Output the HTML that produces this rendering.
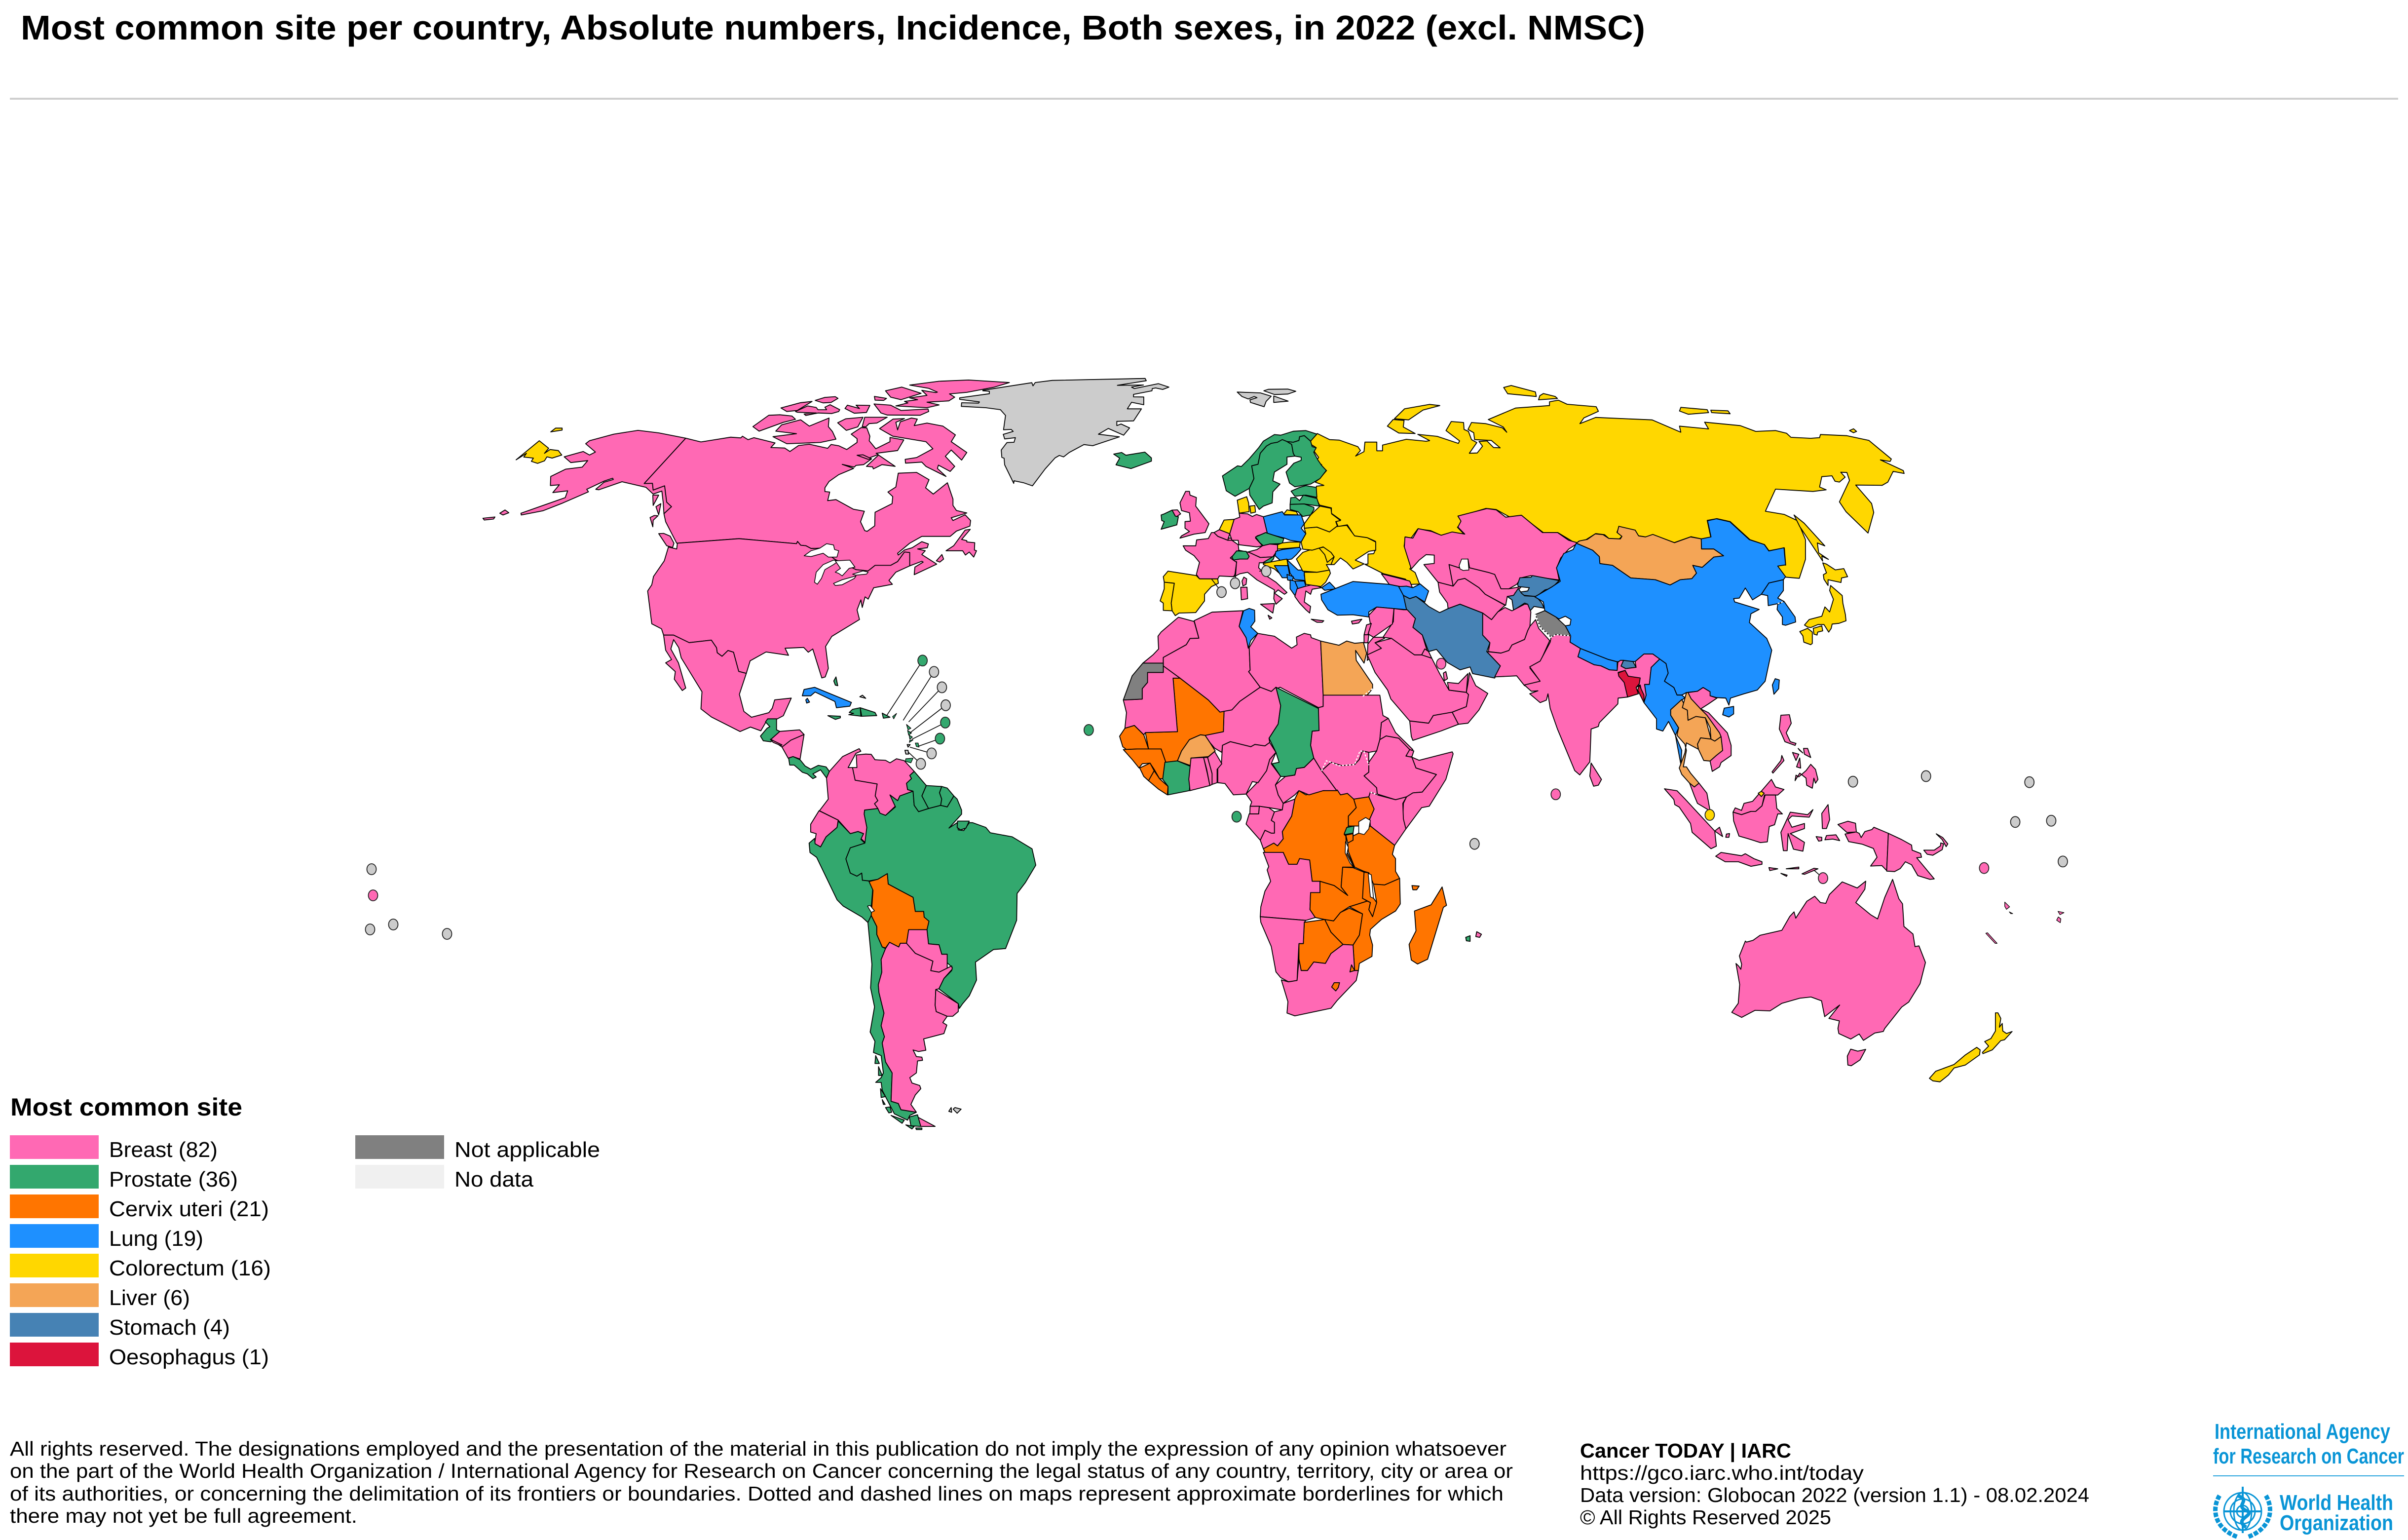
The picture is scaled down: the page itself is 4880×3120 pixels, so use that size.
<!DOCTYPE html>
<html lang="en">
<head>
<meta charset="utf-8">
<title>Most common site per country</title>
<style>
html,body{margin:0;padding:0;background:#fff}
svg{display:block}
text{font-family:"Liberation Sans","Noto Sans CJK JP",sans-serif;fill:#000}
.who{fill:#0a95d6;font-weight:bold}
</style>
</head>
<body>
<svg id="chart" xmlns="http://www.w3.org/2000/svg" width="4880" height="3120" viewBox="0 0 4880 3120">
<rect x="0" y="0" width="4880" height="3120" fill="#fff"/>
<text x="42" y="80" font-size="70" font-weight="bold" textLength="3292" lengthAdjust="spacingAndGlyphs">Most common site per country, Absolute numbers, Incidence, Both sexes, in 2022 (excl. NMSC)</text>
<rect x="20" y="198" width="4840" height="4" fill="#cfcfcf"/>
<g id="map"></g>
<g id="legend">
<text x="21" y="2260" font-size="50" font-weight="bold" textLength="470" lengthAdjust="spacingAndGlyphs">Most common site</text>
</g>
<g font-size="41">
<text x="20" y="2949" textLength="3033" lengthAdjust="spacingAndGlyphs">All rights reserved. The designations employed and the presentation of the material in this publication do not imply the expression of any opinion whatsoever</text>
<text x="20" y="2994" textLength="3046" lengthAdjust="spacingAndGlyphs">on the part of the World Health Organization / International Agency for Research on Cancer concerning the legal status of any country, territory, city or area or</text>
<text x="20" y="3040" textLength="3027" lengthAdjust="spacingAndGlyphs">of its authorities, or concerning the delimitation of its frontiers or boundaries. Dotted and dashed lines on maps represent approximate borderlines for which</text>
<text x="20" y="3085" textLength="704" lengthAdjust="spacingAndGlyphs">there may not yet be full agreement.</text>
</g>
<g font-size="41">
<text x="3202" y="2953" font-weight="bold" textLength="428" lengthAdjust="spacingAndGlyphs">Cancer TODAY | IARC</text>
<text x="3202" y="2998" textLength="575" lengthAdjust="spacingAndGlyphs">https://gco.iarc.who.int/today</text>
<text x="3202" y="3043" textLength="1032" lengthAdjust="spacingAndGlyphs">Data version: Globocan 2022 (version 1.1) - 08.02.2024</text>
<text x="3202" y="3088" textLength="509" lengthAdjust="spacingAndGlyphs">© All Rights Reserved 2025</text>
</g>
<g>
<text class="who" x="4488" y="2915" font-size="44" textLength="356" lengthAdjust="spacingAndGlyphs" style="fill:#0a95d6">International Agency</text>
<text class="who" x="4485" y="2965" font-size="44" textLength="387" lengthAdjust="spacingAndGlyphs" style="fill:#0a95d6">for Research on Cancer</text>
<rect x="4485" y="2989" width="387" height="2" fill="#2aa5dd"/>
<g fill="none" stroke="#0a95d6" stroke-width="3">
<circle cx="4545" cy="3062" r="38"/><circle cx="4545" cy="3062" r="25"/><circle cx="4545" cy="3062" r="12"/>
<ellipse cx="4545" cy="3062" rx="18" ry="38"/>
<path d="M4507 3062H4583M4545 3012V3106" stroke-width="4"/>
<path d="M4534 3030C4566 3040 4524 3050 4556 3062C4566 3072 4526 3078 4552 3094" stroke-width="7"/>
<path d="M4498 3030C4480 3060 4490 3098 4535 3114M4592 3030C4610 3060 4600 3098 4555 3114" stroke-width="9" stroke-dasharray="9 3"/>
</g>
<text class="who" x="4620" y="3059" font-size="44" textLength="230" lengthAdjust="spacingAndGlyphs" style="fill:#0a95d6">World Health</text>
<text class="who" x="4620" y="3100" font-size="44" textLength="230" lengthAdjust="spacingAndGlyphs" style="fill:#0a95d6">Organization</text>
</g>
</svg>
<script>
const siteNames = ['Breast','Prostate','Cervix uteri','Lung','Colorectum','Liver','Stomach','Oesophagus'];
const siteCounts = [82,36,21,19,16,6,4,1];
const otherNames = ['Not applicable','No data'];
const siteColors = {'Breast':'#ff69b4','Prostate':'#33a86e','Cervix uteri':'#ff7500','Lung':'#1e90ff','Colorectum':'#ffd700','Liver':'#f4a556','Stomach':'#4682b4','Oesophagus':'#dc143c','Not applicable':'#808080','No data':'#f0f0f0','Unmapped':'#cccccc','Water':'#ffffff'};
const breastCountries = ['Canada','USA','Mexico','Canada Arctic','Honduras','El Salvador','Nicaragua','Colombia','Venezuela','Ecuador','Argentina','Paraguay','Uruguay','UK','Germany','Belgium','Luxembourg','France','Austria','Italy','Greece','Georgia','Kazakhstan','Uzbekistan','Turkmenistan','Afghanistan','Pakistan','India','Sri Lanka','Vietnam','Malaysia','Indonesia','Philippines','Papua New Guinea','Australia','Iraq','Syria','Lebanon','Palestine','Jordan','Saudi Arabia','Yemen','Oman','UAE','Kuwait','Qatar','Morocco','Algeria','Libya','Sudan','South Sudan','Eritrea','Djibouti','Ethiopia','Somalia','Kenya','CAR','Congo','Gabon','Equatorial Guinea','Cameroon','Nigeria','Niger','Mauritania','Ghana','Togo','Benin','Angola','Namibia','South Africa','Reunion','Northern Ireland','Timor-Leste','Maldives','Solomon Islands','Bahrain'];
const prostateCountries = ['Iceland','Norway','Sweden','Finland','Estonia','Latvia','Lithuania','Ireland','Czechia','Switzerland','Slovenia','Chad','Cote d Ivoire','Rwanda','Mauritius','Guatemala','Costa Rica Panama','Peru','Brazil','Chile','Guyana','Suriname','French Guiana','Hispaniola','Puerto Rico','Bahamas','Caribbean Islands','Cape Verde','Sao Tome','Barbados','Trinidad','Saint Lucia'];
const cervixCountries = ['Mali','Senegal','Guinea','Sierra Leone','Liberia','DR Congo','Uganda','Burundi','Tanzania','Zambia','Malawi','Mozambique','Zimbabwe','Botswana','Eswatini','Lesotho','Madagascar','Comoros','Bolivia'];
const lungCountries = ['Poland','Hungary','Bosnia','Serbia','Montenegro','North Macedonia','Albania','Turkey','Armenia Azerbaijan','Tunisia','China','North Korea','South Korea','Taiwan','Hainan','Nepal','Myanmar','Cuba','Cayman'];
const colorectumCountries = ['Russia','Chukotka','Arctic Russia','Sakhalin','Japan','Denmark','Netherlands','Kaliningrad','Slovakia','Croatia','Bulgaria','Romania','Moldova','Ukraine','Belarus','Spain','Portugal','New Zealand','Brunei','Singapore'];
const liverCountries = ['Egypt','Burkina Faso','Mongolia','Laos','Thailand','Cambodia'];
const stomachCountries = ['Kyrgyzstan','Tajikistan','Iran','Bhutan'];
const oesophagusCountries = ['Bangladesh'];
const notApplicableCountries = ['Western Sahara','Jammu Kashmir'];
const unmappedAreas = ['Greenland','Svalbard','Falkland Islands','Grey Microstates'];
const waterBodies = ['Lakes'];

const crops = {a:[900,700,1568/1100,1.96],b:[2200,800,1.568,2.24],c:[2200,1200,1.568,1568/900],d:[3000,1000,1.568,1.96],e:[3300,1400,1568/900,1.96],f:[1500,1300,2.24,1.568],j:[1900,700,1568/900,3],k:[2500,700,1.12,3]};

const outlines = [
['Russia','k','190,535 218,572 240,575 282,615 288,638 277,672 296,645 298,587 325,587 325,640 338,640 338,605 392,570 437,582 445,578 418,540 462,552 510,595 513,580 482,517 494,462 522,468 523,510 533,522 540,572 552,590 535,655 553,653 565,612 557,583 575,580 590,620 605,622 585,577 547,572 545,530 532,510 540,468 572,475 610,500 620,527 612,495 578,450 640,380 717,365 717,342 737,332 757,357 823,372 828,400 795,440 786,475 822,437 950,452 1015,527 1012,490 1078,507 1069,466 1150,487 1185,522 1230,517 1255,533 1265,558 1310,564 1330,560 1332,541 1392,548 1442,577 1493,690 1490,705 1468,695 1520,760 1522,778 1497,765 1485,830 1472,850 1412,848 1448,960 1453,1015 1440,1140 1390,1010 1375,950 1398,820 1392,772 1378,770 1388,800 1375,830 1365,825 1358,792 1335,797 1330,860 1345,877 1315,887 1230,873 1207,1007 1250,1027 1280,1065 1298,1180 1298,1300 1284,1415 1253,1408 1235,1345 1240,1325 1253,1335 1250,1230 1215,1247 1205,1210 1172,1180 1127,1070 1097,1052 1075,1063 1083,1165 1062,1175 1038,1162 1000,1198 952,1150 938,1165 916,1155 910,1125 875,1103 870,1135 882,1158 875,1177 852,1173 842,1150 822,1143 800,1180 783,1190 778,1205 736,1137 703,1137 652,1033 632,1050 596,997 573,990 510,1040 518,1072 508,1105 523,1147 495,1135 472,1155 447,1125 418,1115 403,1170 390,1163 387,1220 402,1240 418,1290 400,1358 412,1380 422,1450 400,1452 390,1420 340,1387 298,1330 305,1328 305,1268 318,1265 322,1240 322,1190 305,1170 275,1160 258,1090 237,1100 232,1065 243,1060 222,1020 222,987 195,970 185,915 188,855 205,850 185,830 195,810 211,760 197,740 200,725 188,700 193,680 182,640 187,620 175,600 175,575'],
['Arctic Russia','k','365,445 388,385 445,358 468,365 430,392 397,452'],
['Arctic Russia','k','362,450 387,455 385,495 412,535 375,532 349,490'],
['Arctic Russia','k','613,255 630,243 685,282 687,310 622,293'],
['Arctic Russia','k','692,330 695,305 703,292 730,310 735,322'],
['Arctic Russia','k','1015,376 1075,390 1078,408 1032,418 1012,398'],
['Arctic Russia','k','1083,393 1122,397 1127,415 1085,408'],
['Arctic Russia','k','1398,517 1407,506 1414,522 1407,530'],
['Sakhalin','k','1272,1030 1295,1080 1342,1218 1325,1200 1328,1260 1350,1300 1335,1280 1337,1310 1300,1160 1285,1100'],
['Chukotka','a','208,454 275,378 302,408 290,428 306,413 330,417 340,435 312,447 297,442 290,458 270,468 252,460 258,447 230,443 238,428'],
['Chukotka','a','308,343 322,328 341,328 341,336'],
['USA','a','698,368 620,347 560,337 490,352 420,378 409,390 437,423 420,435 402,421 347,442 366,465 415,457 399,483 351,491 308,520 307,556 333,553 314,584 357,577 350,604 290,633 222,666 223,673 286,656 340,627 417,581 412,571 463,538 487,527 489,532 462,543 438,571 447,573 514,541 583,563 604,590 629,578 633,625 635,668 657,640 643,622 637,557 604,574 602,547 578,548'],
['USA','a','112,686 147,681 143,689 116,693'],
['USA','a','161,666 176,653 187,664 170,673'],
['Canada','a','698,368 742,383 828,364 857,367 862,360 878,374 895,366 956,387 944,405 984,407 999,421 1024,397 1055,392 1108,408 1118,393 1140,398 1163,413 1193,385 1193,370 1176,352 1205,326 1221,327 1230,360 1228,378 1247,410 1288,382 1288,365 1328,375 1310,417 1248,428 1254,433 1225,448 1235,450 1212,473 1190,476 1185,483 1150,472 1183,488 1140,513 1112,540 1100,565 1100,580 1114,582 1108,616 1132,612 1182,650 1214,658 1203,700 1215,735 1222,738 1244,716 1245,662 1294,628 1296,600 1282,582 1305,562 1312,507 1365,504 1401,533 1391,565 1413,590 1454,545 1470,610 1470,635 1480,655 1510,665 1465,684 1470,695 1505,672 1521,695 1519,717 1480,737 1462,758 1380,758 1345,785 1310,825 1312,832 1330,812 1352,803 1380,779 1399,788 1396,803 1368,808 1390,815 1380,830 1423,868 1358,910 1360,880 1384,860 1380,857 1345,875 1345,822 1330,820 1310,858 1290,873 1245,873 1225,895 1190,890 1130,850 1085,805 1060,806 1045,795 1030,793 1021,778 1018,787 852,767 672,785 640,700 635,668 657,640 643,622 637,557 604,574 602,547 578,548'],
['USA','a','648,800 672,808 674,785 852,767 1018,787 1021,778 1030,793 1045,795 1060,806 1085,805 1130,850 1190,890 1225,895 1245,873 1290,873 1310,858 1330,820 1345,822 1345,875 1305,900 1285,933 1295,948 1241,962 1225,1007 1216,998 1208,1040 1204,1010 1193,1050 1200,1088 1120,1155 1102,1195 1110,1282 1101,1316 1091,1320 1065,1205 1052,1218 1039,1199 985,1202 995,1230 930,1217 884,1252 873,1302 851,1294 836,1218 820,1211 803,1234 789,1220 787,1200 772,1170 708,1180 663,1150 634,1150 628,1125 600,1105 588,975 600,950 605,917 636,855'],
['Canada Arctic','a','603,594 620,594 604,635'],
['Canada Arctic','a','612,640 626,628 620,672'],
['Canada Arctic','a','595,683 607,675 618,676 604,694 603,720'],
['Canada Arctic','a','620,747 634,746 653,757 664,785 660,802 643,795'],
['Canada Arctic','a','1505,733 1520,730 1495,770 1510,775 1510,780 1533,783 1532,812 1538,815 1530,840 1517,820 1506,832 1498,815 1450,815 1472,795'],
['Canada Arctic','a','1422,855 1438,830 1443,848 1432,860'],
['Canada Arctic','a','1258,330 1297,292 1330,290 1305,305 1310,335 1318,303 1350,288 1367,292 1358,318 1395,308 1441,320 1477,355 1465,382 1510,425 1495,455 1465,415 1448,440 1475,480 1462,500 1428,475 1425,488 1450,520 1392,480 1380,463 1333,467 1332,452 1365,445 1412,410 1392,382 1296,360'],
['Canada Arctic','a','950,362 1018,350 958,340 975,315 1030,295 1055,320 1112,288 1110,322 1122,342 1132,372 1087,385 990,390'],
['Canada Arctic','a','892,322 938,277 970,275 1005,280 1015,293 980,305 910,340'],
['Canada Arctic','a','973,248 1030,227 1063,222 1020,258 990,262'],
['Canada Arctic','a','1072,218 1100,206 1130,203 1138,210 1118,226 1095,228'],
['Canada Arctic','a','1015,262 1050,240 1075,246 1080,255 1105,255 1100,245 1115,235 1143,255 1140,262 1120,270 1080,268 1045,278 1040,272 1075,268 1020,265'],
['Canada Arctic','a','1158,250 1165,237 1200,250 1190,237 1230,238 1220,266 1185,269'],
['Canada Arctic','a','1243,202 1278,210 1270,218 1245,217'],
['Canada Arctic','a','1242,232 1290,237 1320,258 1398,252 1400,262 1375,277 1280,276 1262,268'],
['Canada Arctic','a','1345,157 1430,142 1515,137 1633,147 1590,165 1510,186 1460,192 1475,205 1458,220 1395,225 1430,236 1395,247 1305,240 1340,228 1330,222 1368,215 1345,208 1395,198 1380,178 1420,187 1425,185 1400,170'],
['Canada Arctic','a','1275,180 1322,165 1378,190 1320,215 1290,205'],
['Canada Arctic','a','1220,480 1255,435 1303,480 1265,473 1240,490 1238,482'],
['Canada Arctic','a','1193,436 1210,434 1235,450 1225,452'],
['Canada Arctic','a','1137,307 1160,291 1210,285 1195,323 1162,337'],
['Canada Arctic','a','1208,322 1215,285 1280,285 1250,308 1228,310 1218,323'],
['Lakes','a','1040,835 1060,815 1085,805 1105,787 1125,792 1128,810 1140,815 1135,840 1110,840 1095,825 1060,838'],
['Lakes','a','1070,940 1075,900 1095,870 1125,852 1140,855 1125,870 1100,890 1090,925 1078,948'],
['Lakes','a','1130,855 1172,852 1187,880 1170,885 1150,915 1140,905 1130,900 1145,885'],
['Lakes','a','1125,945 1150,930 1190,915 1185,925 1150,950 1130,953'],
['Lakes','a','1180,908 1210,895 1225,900 1220,908 1190,912'],
['Greenland','j','160,272 333,226 337,245 345,225 405,212 733,200 737,214 635,242 727,240 685,253 695,262 780,232 817,253 795,267 770,258 758,262 757,275 692,297 692,312 728,313 728,360 685,345 670,385 720,385 692,458 633,461 633,487 648,477 678,501 657,545 603,504 568,539 642,555 548,609 517,602 465,650 445,677 430,668 415,683 380,750 335,853 305,835 270,822 269,838 237,725 235,685 227,680 225,635 245,590 270,588 275,560 237,568 232,540 267,522 260,510 233,512 240,425 222,390 170,378 84,370 85,348 145,350 148,343 78,327 78,318 183,293 183,278 160,275'],
['Svalbard','j','1058,283 1140,288 1178,308 1160,340 1153,372 1105,346 1103,330 1128,317 1118,310 1097,325 1075,310'],
['Svalbard','j','1152,275 1168,266 1237,265 1265,278 1237,295 1190,298'],
['Svalbard','j','1187,307 1238,338 1187,346'],
['Iceland','j','622,660 650,650 665,667 732,648 755,683 755,703 683,748 630,725 643,685'],
['Norway','b','735,178 700,162 660,165 620,183 600,180 565,210 550,240 520,290 495,325 483,322 435,368 447,435 475,460 520,425 535,380 528,322 548,315 555,265 575,232 590,220 610,215 625,203 640,212 660,215 678,207 680,190 695,185 715,210'],
['Sweden','b','625,203 640,212 655,225 660,265 665,278 640,282 640,315 600,350 595,390 618,405 595,440 593,490 565,505 552,520 545,505 522,455 520,425 535,380 528,322 548,315 555,265 575,232 590,220 610,215'],
['Finland','b','640,212 660,215 678,207 680,190 695,185 715,210 720,235 733,240 725,260 738,295 750,320 765,343 745,380 715,405 665,417 648,400 637,350 662,310 685,297 685,283 665,278 660,265 655,225'],
['Estonia','b','653,437 680,420 700,412 733,420 735,465 700,455 665,460'],
['Latvia','b','650,497 652,467 668,465 680,480 692,455 735,470 743,505 695,495'],
['Lithuania','b','650,497 695,495 725,510 726,520 715,545 690,552 675,530 650,520'],
['Kaliningrad','b','630,540 640,522 670,530 675,545 628,543'],
['Denmark','b','482,478 512,462 518,490 520,530 488,537'],
['Denmark','b','522,505 538,502 540,532 525,537'],
['UK','b','318,438 330,438 332,455 352,466 350,505 392,585 380,625 345,632 300,650 305,640 330,620 316,605 316,575 333,573 330,535 305,525 300,490'],
['Ireland','b','240,545 250,540 275,523 285,550 295,553 290,590 240,610 250,575 242,570'],
['Northern Ireland','b','275,523 292,522 302,540 290,552 285,550'],
['Germany','b','488,537 515,540 530,552 543,543 565,553 577,625 545,640 540,650 562,685 545,690 487,680 485,660 465,660 458,630 472,565 490,555'],
['Netherlands','b','440,568 472,565 458,630 425,612'],
['Belgium','b','408,625 425,612 458,630 452,660 420,642'],
['Luxembourg','b','453,650 463,650 465,662 453,660'],
['France','b','310,685 350,685 353,658 390,652 400,625 408,625 420,642 452,660 465,660 485,680 487,705 460,740 480,760 475,815 470,825 425,822 420,835 362,835 352,815 362,760 345,730 318,705'],
['Poland','b','565,553 625,530 632,545 685,545 695,585 685,605 700,630 685,668 650,660 632,650 578,630 577,625'],
['Czechia','b','540,645 572,625 630,652 625,675 585,677 565,685 553,670'],
['Slovakia','b','610,680 625,672 650,668 682,668 680,692 610,700'],
['Austria','b','510,715 545,702 562,685 585,677 610,680 610,705 595,735 555,738 520,715'],
['Italy','b','487,705 520,715 555,738 595,735 565,762 552,762 550,785 578,825 605,850 640,897 632,905 612,885 600,900 625,925 605,950 598,925 600,885 545,840 515,805 490,812 472,825 475,812 480,760 460,740'],
['Italy','b','503,827 512,835 510,860 500,867 497,845'],
['Italy','b','493,873 513,873 515,925 495,930'],
['Italy','b','556,950 600,947 595,990'],
['Italy','b','580,1000 592,1012 585,1018'],
['Switzerland','b','465,735 480,708 510,710 520,733 515,745 490,745 470,750'],
['Hungary','b','605,710 625,702 680,692 685,700 670,725 655,745 620,753 602,730'],
['Slovenia','b','563,762 600,730 597,745 585,763 565,762'],
['Croatia','b','565,765 600,755 640,745 643,775 600,775 620,815 600,790 565,770'],
['Bosnia','b','600,775 643,775 650,830 625,830'],
['Serbia','b','640,748 675,795 695,795 695,820 700,843 665,838 650,810'],
['Montenegro','b','640,815 660,825 658,845 642,840'],
['North Macedonia','b','665,845 695,845 700,868 675,880 668,870'],
['Albania','b','650,840 665,845 675,880 665,910 650,880'],
['Greece','b','672,880 700,868 725,860 750,875 720,882 715,905 700,890 695,940 715,960 712,990 700,975 680,945 665,915'],
['Greece','b','717,1018 757,1025 752,1032 735,1032'],
['Greece','b','845,1027 878,1018 868,1035 848,1040'],
['Bulgaria','b','695,805 735,805 775,795 778,810 763,850 748,870 730,866 700,860 697,840'],
['Romania','b','670,745 690,715 710,705 750,690 780,715 790,735 780,770 765,770 775,795 735,805 690,800'],
['Moldova','b','742,695 760,690 778,710 790,735 768,760 760,725'],
['Ukraine','b','685,668 700,630 695,605 735,600 775,622 795,598 830,592 855,640 895,648 922,668 922,705 900,710 857,750 885,767 850,790 830,760 810,740 790,770 780,770 790,735 780,715 755,690 720,705 690,700'],
['Belarus','b','695,585 715,545 745,505 780,515 782,540 810,570 795,575 800,595 775,622 735,600 695,605'],
['Spain','b','262,800 352,820 362,835 420,835 422,855 400,870 378,905 378,935 350,988 297,990 285,1002 275,980 272,945 282,855 250,850 247,825'],
['Portugal','b','250,850 282,855 272,945 275,980 247,978 247,945 237,935 250,880'],
['Turkey','b','750,875 775,850 795,880 760,887'],
['Turkey','b','748,905 850,847 965,860 1000,870 1015,895 1010,910 1022,975 980,970 925,963 900,985 900,1008 850,998 800,1000 770,975 750,930'],
['Georgia','b','940,812 990,830 1030,845 1038,873 1000,870 965,860'],
['Armenia Azerbaijan','b','995,870 1020,868 1040,875 1063,858 1090,890 1078,940 1050,915 1030,925 1010,910'],
['Kazakhstan','b','1013,690 1015,645 1040,650 1057,607 1100,620 1130,637 1165,622 1205,632 1183,600 1193,573 1183,550 1275,516 1305,522 1335,555 1385,546 1452,625 1500,625 1535,660 1565,672 1535,700 1510,740 1497,785 1505,840 1425,825 1415,820 1385,830 1370,860 1345,880 1320,880 1300,815 1283,807 1220,785 1215,745 1195,750 1187,785 1155,770 1168,868 1120,850 1075,770 1108,765 1108,727 1082,725 1060,750 1035,790'],
['Uzbekistan','b','1155,770 1187,785 1195,750 1215,745 1220,785 1283,807 1300,815 1320,880 1345,880 1385,870 1360,910 1340,915 1335,955 1270,905 1250,875 1205,833 1183,840 1168,868'],
['Turkmenistan','b','1120,850 1168,868 1183,840 1205,833 1250,875 1270,905 1333,955 1310,985 1290,1020 1265,1020 1262,990 1190,950 1152,970 1150,945 1125,895'],
['Kyrgyzstan','b','1373,860 1380,830 1415,828 1420,820 1505,843 1480,878 1460,885 1432,915 1395,910 1365,910 1365,898 1405,890 1410,875 1375,870'],
['Tajikistan','b','1340,915 1360,910 1375,878 1385,900 1395,912 1432,915 1450,945 1457,968 1425,960 1410,985 1405,950 1395,945 1360,978 1355,930'],
['Iran','b','1010,910 1030,925 1050,915 1078,945 1090,960 1125,988 1152,970 1190,950 1262,990 1262,1090 1285,1125 1275,1165 1318,1230 1300,1285 1230,1265 1222,1235 1190,1248 1150,1215 1115,1155 1090,1165 1070,1090 1040,1055 1048,1015 1020,975'],
['Afghanistan','b','1262,990 1290,1020 1310,985 1333,965 1355,980 1395,950 1405,950 1415,985 1412,1050 1405,1070 1395,1110 1355,1135 1345,1160 1320,1172 1280,1165 1285,1125 1262,1090'],
['Pakistan','b','1275,1165 1320,1172 1345,1160 1355,1135 1395,1110 1405,1070 1412,1050 1430,1020 1440,1060 1475,1115 1445,1210 1412,1240 1445,1300 1395,1320 1370,1275 1300,1280 1318,1230'],
['Iraq','b','1010,975 1022,975 1048,1015 1040,1055 1070,1090 1085,1160 1070,1180 1045,1180 972,1105 945,1100 978,1030 980,970'],
['Syria','b','900,1000 925,963 980,970 975,1040 915,1100 898,1085 905,1040'],
['Jordan','b','915,1100 945,1100 950,1105 920,1125 940,1150 915,1185 895,1205 897,1130'],
['Saudi Arabia','b','895,1180 940,1150 920,1125 972,1105 1045,1180 1070,1180 1100,1195 1125,1265 1155,1340 1210,1350 1217,1360 1210,1415 1165,1440 1105,1455 1090,1490 1030,1480 970,1380 960,1340 920,1260'],
['Yemen','b','1030,1480 1090,1490 1105,1455 1165,1440 1185,1495 1130,1525 1040,1568 1035,1550'],
['Oman','b','1165,1440 1210,1415 1217,1360 1210,1350 1215,1310 1220,1260 1240,1320 1278,1355 1250,1430 1215,1490 1185,1495'],
['UAE','b','1150,1305 1185,1310 1215,1265 1210,1350 1155,1340'],
['Kuwait','b','1068,1180 1078,1153 1090,1165 1100,1195'],
['Qatar','c','1137,285 1145,280 1150,305 1140,312'],
['Morocco','c','295,88 345,103 360,162 332,163 320,185 247,230 247,250 182,250 215,220 232,200 230,155 240,140'],
['Algeria','c','345,100 402,70 500,65 488,120 510,160 520,195 523,275 518,280 555,335 490,385 465,415 427,423 390,380 300,303 247,260 247,230 320,185 332,163 360,162'],
['Tunisia','c','502,65 520,57 537,63 538,102 525,122 547,145 525,170 517,197 510,160 488,120'],
['Libya','c','547,145 600,155 655,197 672,185 670,158 695,145 715,150 717,160 747,172 755,363 755,403 740,407 618,335 590,350 555,335 518,280 523,275 520,195'],
['Egypt','c','747,172 805,187 830,172 855,180 883,177 893,215 885,250 858,205 860,240 912,325 912,340 895,363 755,363'],
['Lebanon','c','893,115 908,110 897,150 885,150'],
['Palestine','c','885,150 900,150 897,178 885,178'],
['Sudan','c','755,363 935,363 945,435 962,445 940,460 935,520 925,560 900,565 880,560 870,590 855,608 815,612 780,600 750,630 725,585 715,540 720,490 740,488 740,407 755,403'],
['South Sudan','c','750,630 780,600 815,612 855,608 870,590 880,560 900,565 900,635 885,648 925,690 927,715 905,705 900,722 852,730 832,710 810,715 798,700 765,650'],
['Eritrea','c','940,460 962,445 985,495 1040,555 1030,560 995,515 955,507 935,520'],
['Djibouti','c','1020,570 1030,555 1043,560 1037,580 1020,582'],
['Ethiopia','c','935,520 955,507 995,515 1030,555 1018,578 1037,582 1050,620 1115,643 1070,705 1040,708 1020,722 985,732 927,712 925,690 885,648 900,635 900,600 925,560'],
['Somalia','c','1037,582 1060,593 1165,563 1168,570 1145,660 1092,755 1068,760 1018,835 1008,805 1010,745 1020,722 1040,708 1070,705 1115,643 1050,620'],
['Kenya','c','905,705 927,715 985,732 1020,722 1008,745 1010,800 1018,835 982,893 905,825 903,800 915,770 900,722'],
['Uganda','c','852,730 900,722 917,765 903,800 870,825 835,825 835,790 860,760'],
['Tanzania','c','868,850 905,825 982,893 975,925 985,940 985,985 998,1010 950,1033 915,1030 900,990 885,985 855,970 835,915 833,885 850,860'],
['DR Congo','c','678,700 700,715 755,700 800,698 810,715 832,710 852,730 860,760 835,790 835,825 822,855 827,860 830,915 855,970 817,970 812,1040 833,1070 790,1035 745,1020 720,1020 712,945 680,940 672,960 645,960 628,918 570,918 565,905 598,885 610,895 628,870 625,845 655,790 665,730'],
['Rwanda','c','822,852 830,830 853,825 850,850 825,855'],
['Burundi','c','827,857 850,852 850,875 833,885'],
['CAR','c','603,680 635,650 665,645 670,622 695,618 725,585 750,630 765,650 798,700 755,700 710,715 678,700 665,715 628,745 612,715'],
['Congo','c','628,745 665,730 655,790 625,845 628,870 610,895 598,885 565,905 555,875 570,840 590,850 600,850 600,812 590,805 600,775 625,768'],
['Gabon','c','520,782 550,782 552,755 582,760 600,775 590,805 600,812 600,850 590,850 570,840 555,875 510,818'],
['Equatorial Guinea','c','523,755 552,755 550,782 522,782'],
['Cameroon','c','510,712 545,672 575,630 585,590 605,565 590,605 620,650 603,680 612,715 628,745 625,768 582,760 552,755 523,755 528,740'],
['Nigeria','c','420,672 420,620 432,600 435,540 460,527 525,545 538,537 570,542 585,530 605,565 585,590 575,630 548,672 530,668 510,712 470,715 443,675'],
['Niger','c','380,505 438,492 440,420 465,415 490,385 555,335 590,350 605,335 620,400 612,465 583,515 585,530 570,542 538,537 525,545 460,527 435,540 433,565 410,550 395,530'],
['Chad','c','605,335 740,410 742,488 720,490 715,540 725,585 695,618 670,622 665,645 635,650 620,650 593,605 615,600 605,565 583,515 612,465 620,400'],
['Mali','c','278,303 300,303 390,380 427,423 440,420 438,492 380,505 365,503 330,520 305,560 292,595 255,600 240,553 200,553 190,495 292,492'],
['Mauritania','c','120,380 180,377 180,340 197,318 197,283 247,283 247,260 300,303 278,303 292,492 190,495 185,503 155,470 125,480 130,425'],
['Western Sahara','c','120,380 148,295 182,250 247,250 247,283 197,283 197,318 180,340 180,377'],
['Senegal','c','125,480 155,470 185,503 200,553 165,553 130,555 118,545 108,508'],
['Guinea','c','120,555 165,553 200,553 240,553 255,600 252,658 235,658 218,625 205,603 180,605 170,620 148,590'],
['Sierra Leone','c','172,620 205,603 218,630 200,665 185,650'],
['Liberia','c','200,665 218,630 235,658 262,685 260,715 232,695'],
['Cote d Ivoire','c','252,600 292,595 335,615 330,700 262,715 262,685 245,660'],
['Burkina Faso','c','292,595 305,560 330,520 365,503 380,505 395,530 412,560 390,580 335,585 335,612'],
['Ghana','c','335,585 375,583 387,640 395,682 332,700 328,660'],
['Togo','c','375,583 388,583 402,640 402,678 395,682 385,625'],
['Benin','c','388,583 410,562 433,605 418,625 418,672 402,678 402,640'],
['Angola','c','565,918 628,918 645,960 672,960 680,940 712,945 720,1020 745,1020 745,1060 715,1060 713,1120 730,1148 700,1158 555,1145 557,1110 570,1055 588,1020 577,980 582,968'],
['Zambia','c','745,1020 790,1035 833,1070 812,1040 817,970 850,972 885,988 893,1020 885,1050 880,1080 895,1090 838,1110 810,1130 788,1160 760,1155 730,1148 713,1120 715,1060 745,1060'],
['Malawi','c','885,988 900,990 905,1030 912,1075 925,1095 923,1120 912,1145 900,1120 905,1095 880,1080'],
['Mozambique','c','915,1030 950,1033 998,1010 1000,1100 985,1125 940,1155 905,1190 903,1210 912,1245 910,1285 870,1310 867,1335 855,1335 850,1245 870,1210 880,1135 838,1110 895,1090 905,1095 900,1120 912,1145 925,1095'],
['Zimbabwe','c','760,1155 788,1160 810,1130 838,1115 880,1135 870,1210 850,1245 818,1243 780,1200'],
['Botswana','c','695,1165 760,1155 780,1200 818,1243 780,1275 762,1310 725,1305 705,1335 685,1335 678,1295 678,1240 692,1240'],
['Namibia','c','555,1145 700,1158 695,1165 692,1240 678,1240 672,1370 645,1375 620,1360 605,1340 590,1250 557,1165'],
['South Africa','c','622,1368 645,1375 672,1370 678,1295 685,1335 705,1335 725,1305 762,1310 780,1275 818,1243 850,1245 855,1335 867,1335 860,1370 800,1440 780,1468 665,1495 640,1485 643,1445'],
['Eswatini','c','845,1315 855,1335 840,1340'],
['Lesotho','c','790,1378 807,1378 803,1395 795,1407 782,1393'],
['Madagascar','c','1133,1040 1147,1105 1137,1112 1087,1295 1055,1312 1035,1298 1028,1243 1050,1195 1045,1125 1098,1103'],
['Comoros','c','1037,1035 1060,1037 1052,1050 1040,1050'],
['Mauritius','c','1208,1218 1222,1212 1222,1232 1210,1230'],
['Reunion','c','1243,1198 1258,1207 1252,1218 1240,1215'],
['Lakes','c','868,810 890,795 905,805 900,835 885,855 868,850'],
['Lakes','c','826,880 835,900 830,925 850,965 855,975 840,955 825,920'],
['Lakes','c','898,992 908,997 915,1080 905,1075'],
['Lakes','b','1187,775 1195,745 1215,745 1218,795 1200,797 1190,790'],
['Mongolia','d','305,197 315,188 340,182 365,160 390,163 408,178 445,180 450,170 435,155 440,130 492,145 503,168 525,172 548,162 617,195 668,172 702,180 703,220 742,220 773,247 742,252 705,293 675,285 687,316 672,338 635,342 603,363 556,342 478,335 420,285 380,278 378,250 357,225'],
['China','d','305,197 357,225 378,250 380,278 420,285 478,335 556,342 603,363 635,342 672,338 687,316 675,285 705,293 742,252 773,247 742,220 703,220 702,180 733,172 722,108 750,100 793,112 855,183 902,202 917,228 965,215 970,283 945,288 970,330 963,342 917,355 893,400 865,422 842,375 823,415 805,417 808,430 886,460 860,477 855,512 910,575 926,622 905,745 880,780 838,795 795,812 790,840 780,812 750,810 730,803 730,787 708,770 690,785 655,790 640,800 625,800 615,770 585,745 597,713 590,675 570,657 548,637 520,637 492,667 448,665 435,668 405,658 318,615 285,590 287,565 270,525 285,522 288,500 270,487 250,498 240,490 205,465 200,430 173,410 228,370 254,348 242,295 265,238 295,222'],
['Jammu Kashmir','d','175,480 205,465 240,490 270,525 287,565 240,560 225,570 190,530'],
['Nepal','d','318,615 405,658 435,668 435,702 410,700 383,684 362,680 310,648'],
['Bhutan','d','455,662 485,667 495,690 462,695 447,685'],
['India','d','140,760 190,745 157,688 190,665 222,590 225,570 240,560 287,565 285,590 318,615 310,648 362,680 383,684 410,700 435,702 437,670 445,662 455,662 447,685 462,695 495,690 492,667 520,637 548,637 570,657 565,680 543,690 537,758 522,758 527,800 520,830 508,760 495,770 505,735 470,725 460,702 438,710 458,750 468,808 438,812 437,835 378,910 375,925 352,935 348,1065 316,1117 300,1100 245,935 222,853 215,795 210,820 190,830 157,795 183,783 162,785'],
['Bangladesh','d','438,712 460,702 470,725 508,732 505,755 495,770 502,795 468,808 457,750 440,725'],
['Bangladesh','d','505,760 520,800 520,830 500,780'],
['Sri Lanka','d','352,1070 385,1135 375,1158 360,1162 348,1122'],
['Myanmar','d','520,830 527,800 522,758 537,758 543,690 570,657 590,675 597,713 585,745 615,770 625,800 640,800 650,810 605,858 605,880 630,930 620,960 640,1020 637,1075 620,960 598,905 580,943 560,935 560,895'],
['Thailand','d','640,818 658,860 660,900 685,885 715,890 733,975 700,970 690,995 693,1015 670,1000 655,990 650,1030 632,1090 640,1115 665,1150 680,1165 695,1150 668,1110 655,1085 645,1085 655,1020 650,995 625,960 630,930 605,880 605,858'],
['Laos','d','655,790 690,785 708,770 730,787 730,803 752,812 725,835 700,855 720,880 760,950 765,965 745,983 733,975 730,930 715,890 685,885 660,900 658,860 642,850'],
['Cambodia','d','690,995 700,970 733,975 745,983 765,965 770,1020 750,1040 730,1062 710,1060 693,1015'],
['Vietnam','d','660,790 690,785 708,770 730,787 730,803 752,812 725,835 700,855 725,870 785,950 797,1000 797,1040 765,1068 760,1085 737,1103 730,1062 750,1040 770,1020 765,965 760,950 720,880 700,855 670,815'],
['Malaysia','d','665,1150 680,1165 695,1150 720,1190 730,1260 690,1230 680,1200'],
['Malaysia','d','803,1265 810,1248 830,1258 838,1230 865,1222 925,1135 938,1165 965,1175 945,1197 903,1197 895,1240 875,1262 860,1262 830,1275'],
['Indonesia','d','803,1265 830,1275 860,1262 875,1262 895,1240 905,1197 938,1197 942,1250 960,1272 945,1272 935,1315 918,1322 912,1383 890,1386 850,1370 822,1360 805,1300'],
['Brunei','d','883,1190 893,1182 902,1190 893,1203'],
['Indonesia','d','585,1172 625,1180 650,1212 745,1340 750,1400 733,1410 673,1345 668,1310 632,1245 618,1235 615,1215'],
['Indonesia','d','745,1340 760,1325 770,1362'],
['Indonesia','d','782,1352 792,1350 790,1365 780,1365'],
['Indonesia','d','985,1265 1040,1275 1057,1255 1045,1285 990,1280 978,1295 990,1325 1030,1310 1030,1330 985,1350 1030,1385 1025,1420 995,1412 978,1350 975,1418 963,1418 955,1345'],
['Indonesia','d','1085,1270 1105,1235 1110,1295 1100,1330 1087,1330'],
['Indonesia','d','1067,1362 1085,1365 1085,1378 1075,1380'],
['Indonesia','d','1095,1375 1100,1358 1130,1355 1142,1378 1120,1372'],
['Indonesia','d','748,1440 765,1425 830,1438 842,1430 870,1450 895,1462 895,1472 860,1480 820,1462 778,1462'],
['Indonesia','d','917,1485 945,1490 920,1497'],
['Indonesia','d','972,1490 1012,1483 1012,1490'],
['Indonesia','d','1022,1510 1060,1488 1073,1490 1030,1512'],
['Indonesia','d','955,1508 975,1515 973,1520'],
['Philippines','d','955,880 982,878 988,912 972,950 985,985 1003,992 1000,1000 968,985 960,962 950,935'],
['Philippines','d','927,1105 955,1060 958,1040 965,1060 930,1110'],
['Philippines','d','992,1028 1012,1035 1003,1060'],
['Philippines','d','1010,1012 1025,1030 1015,1020'],
['Philippines','d','1027,1012 1040,1012 1050,1048 1030,1035'],
['Philippines','d','1005,1085 1015,1050 1018,1090'],
['Philippines','d','1000,1140 1003,1118 1012,1125 1035,1100 1050,1075 1065,1095 1073,1135 1065,1150 1060,1130 1055,1170 1037,1158 1035,1130 1015,1110'],
['Indonesia','e','740,530 775,517 802,525 805,560 815,565 822,582 835,558 860,550 867,541 918,565 912,713 895,693 855,695 878,660 865,625 825,608 778,598 765,568 802,560 772,562'],
['Papua New Guinea','e','918,565 965,590 1000,612 1002,632 1032,645 1035,660 1018,662 1080,746 1065,748 1022,733 1000,690 978,678 960,705 940,717 912,715'],
['Papua New Guinea','e','1043,632 1080,632 1102,615 1103,603 1113,607 1108,630 1075,652 1055,648'],
['Papua New Guinea','e','1087,567 1110,582 1128,607 1122,618 1108,590'],
['Australia','e','755,758 808,782 838,755 835,787 803,840 855,888 880,905 905,820 933,748 955,825 968,845 973,935 1005,965 1012,1015 1026,1012 1049,1078 1030,1162 990,1235 965,1255 905,1340 900,1352 870,1358 830,1387 815,1362 785,1382 743,1360 740,1340 745,1310 708,1300 746,1247 693,1293 682,1230 645,1215 605,1220 542,1240 500,1270 447,1268 400,1296 365,1276 388,1240 393,1165 380,1082 390,1093 397,1105 400,1085 392,1052 413,993 417,997 440,990 465,970 542,950 570,895 585,877 591,902 630,835 658,815 678,840 697,843 710,808'],
['Australia','e','785,1422 810,1430 838,1423 818,1465 787,1488 775,1485 773,1450'],
['New Zealand','e','1230,1415 1242,1425 1240,1445 1190,1485 1150,1497 1130,1525 1100,1552 1075,1548 1063,1538 1085,1510 1150,1483 1190,1445'],
['New Zealand','e','1296,1278 1305,1278 1315,1300 1310,1335 1320,1320 1322,1350 1335,1360 1355,1352 1328,1385 1315,1388 1285,1425 1252,1440 1250,1435 1272,1410 1258,1392 1280,1380 1296,1350'],
['Solomon Islands','e','1329,838 1346,857 1335,867 1329,855'],
['Solomon Islands','e','1345,877 1357,884 1350,884'],
['Solomon Islands','e','1517,875 1538,880 1524,888'],
['Solomon Islands','e','1512,910 1518,897 1527,905 1525,920'],
['Solomon Islands','e','1262,962 1268,960 1302,1002 1295,1002'],
['Japan','d','1088,275 1100,280 1128,303 1155,298 1167,330 1148,335 1146,353 1105,342 1105,365 1092,340 1090,322 1100,315'],
['Japan','d','1113,365 1150,405 1152,435 1160,480 1162,505 1140,515 1118,518 1115,535 1107,550 1092,520 1073,520 1050,532 1040,530 1030,522 1045,500 1085,487 1095,450 1110,470 1122,420 1110,385'],
['Japan','d','1058,535 1085,525 1088,545 1072,550 1070,562 1060,558'],
['Japan','d','1015,548 1040,535 1055,550 1055,595 1050,600 1028,590 1025,565'],
['South Korea','d','965,428 1000,490 1002,510 970,523 960,520 960,490 943,460 945,440'],
['North Korea','d','917,355 963,342 963,385 945,415 965,428 945,437 915,445 913,405 893,400'],
['Taiwan','d','937,735 950,740 948,775 933,797 928,760'],
['Hainan','d','775,852 805,845 805,875 790,887 770,878'],
['Mexico','a','634,1150 663,1150 708,1180 772,1170 787,1200 789,1220 803,1234 820,1211 836,1218 851,1294 873,1302 853,1385 866,1453 888,1476 938,1458 948,1440 955,1407 1003,1400 980,1470 962,1483 935,1483 915,1530 885,1515 855,1533 772,1475 742,1443 745,1375 685,1240 678,1200 663,1168 655,1205 677,1260 698,1360 688,1370 665,1325 668,1295 640,1260 657,1247 640,1210'],
['Guatemala','f','92,300 122,275 135,270 115,255 125,245 165,245 165,280 180,285 140,318 105,315'],
['Honduras','f','140,310 180,285 270,280 290,295 230,315 205,330 190,335'],
['El Salvador','f','137,310 190,328 185,330 150,320'],
['Nicaragua','f','190,335 230,313 290,295 272,373 240,365 218,370'],
['Costa Rica Panama','f','220,370 240,365 272,375 295,395 320,405 355,393 390,398 405,412 403,430 392,433 365,407 330,420 345,430 330,435 305,420 283,415 245,392 225,392'],
['Colombia','f','392,433 405,412 465,365 540,340 548,348 525,355 490,400 510,400 522,440 622,452 613,490 625,505 610,515 630,530 565,535 563,548 577,575 570,640 548,625 560,610 535,603 500,610 445,567 360,537 400,500'],
['Venezuela','f','510,400 530,400 527,360 570,357 595,358 612,375 660,377 680,385 710,372 745,378 790,412 770,425 778,435 755,450 760,470 785,475 750,487 725,490 715,505 680,487 708,520 660,552 630,545 625,530 610,515 625,505 613,490 622,452 522,440'],
['Ecuador','f','320,580 358,537 445,567 440,590 390,620 365,652 338,642 345,610 320,605'],
['Peru','f','313,640 338,625 340,642 365,652 390,620 440,590 445,570 500,610 535,603 560,610 548,628 566,640 500,655 480,690 500,735 530,745 552,735 555,758 585,760 602,785 595,845 597,868 580,892 553,875 468,840 440,820 347,685 317,670'],
['Brazil','f','566,640 575,590 563,548 565,535 625,530 635,545 660,552 705,525 680,487 715,505 725,490 785,475 790,520 810,540 855,530 910,520 940,525 970,490 985,500 1005,535 1005,548 948,592 985,575 990,598 1015,600 1040,575 1055,575 1115,590 1135,607 1235,620 1325,658 1342,710 1295,765 1257,800 1255,885 1205,975 1150,978 1068,1018 1073,1075 1040,1125 1010,1150 995,1165 990,1150 902,1103 925,1070 960,1045 963,1035 940,1020 940,993 915,993 903,963 855,960 848,915 855,890 835,875 833,857 795,857 785,812 725,790 672,770 668,737 625,755 585,760 555,758 552,735 530,745 500,735 480,690 500,655'],
['Brazil','f','987,570 1040,570 1025,592 1000,598 985,590'],
['Bolivia','f','585,762 625,755 668,737 672,770 725,790 785,812 795,857 833,857 835,875 857,888 848,915 765,915 755,958 727,958 720,970 678,955 660,973 645,970 620,930 620,905 595,870 603,790'],
['Paraguay','f','765,915 848,915 855,960 903,963 915,993 940,993 940,1040 903,1050 865,1045 875,1015 795,990 755,960'],
['Chile','f','580,892 595,870 620,905 620,930 645,970 660,975 640,1010 643,1050 627,1090 630,1115 653,1180 640,1220 655,1255 645,1275 660,1335 690,1370 685,1460 718,1467 730,1487 800,1495 770,1505 760,1520 700,1500 645,1425 640,1400 615,1400 640,1385 650,1370 640,1315 605,1305 612,1270 590,1240 610,1160 592,1100 598,1025'],
['Argentina','f','660,975 678,955 720,970 727,958 755,958 795,990 875,1015 865,1045 903,1050 960,1030 963,1040 925,1070 902,1103 888,1105 885,1155 890,1175 940,1190 920,1210 938,1218 925,1245 833,1262 843,1298 810,1302 785,1297 800,1318 825,1320 828,1330 805,1332 800,1370 770,1385 780,1402 815,1410 820,1420 795,1440 775,1470 800,1495 730,1487 718,1467 685,1460 690,1370 660,1335 645,1275 655,1255 640,1220 653,1180 630,1115 627,1090 643,1050 640,1010'],
['Argentina','f','805,1510 885,1540 820,1540'],
['Chile','f','768,1510 805,1503 820,1540 775,1538'],
['Chile','f','615,1315 632,1340 612,1340'],
['Chile','f','628,1350 645,1378 628,1378'],
['Chile','f','637,1420 660,1445 640,1448'],
['Chile','f','645,1455 658,1470 650,1470'],
['Chile','f','660,1480 680,1478 688,1495 675,1497'],
['Chile','f','685,1505 745,1520 735,1530'],
['Chile','f','752,1535 790,1540 780,1548'],
['Chile','f','797,1545 825,1545 825,1550 800,1550'],
['Uruguay','f','888,1105 990,1150 990,1175 965,1190 940,1190 890,1175 885,1155'],
['Guyana','f','755,450 778,435 770,425 790,412 845,457 825,490 855,530 810,540 790,520 785,475 760,470'],
['Suriname','f','845,457 915,460 905,480 915,500 910,520 855,530 825,490'],
['French Guiana','f','915,460 940,465 970,490 940,525 910,520 915,500 905,480'],
['Lakes','f','578,840 590,838 610,855 595,860'],
['Falkland Islands','f','947,1492 958,1480 960,1495'],
['Falkland Islands','f','967,1485 975,1480 1003,1485 985,1498'],
['Cuba','f','290,152 338,145 505,193 498,205 437,210 430,190 340,160 320,172 282,172'],
['Cayman','f','298,185 305,180 315,192 302,195'],
['Hispaniola','f','398,235 455,237 455,242 432,247'],
['Hispaniola','f','495,225 510,215 545,210 612,225 620,235 552,237 493,232 515,228'],
['Hispaniola','f','545,210 552,237 548,237'],
['Puerto Rico','f','645,227 680,240 650,243'],
['Bahamas','f','425,125 435,112 443,140 432,138'],
['Grey Microstates','f','543,175 555,170 570,180'],
['Caribbean Islands','f','692,238 710,228 697,245'],
['Caribbean Islands','f','755,263 775,275 762,280'],
['Caribbean Islands','f','760,282 778,290 765,297'],
['Caribbean Islands','f','767,297 782,303 770,310'],
['Caribbean Islands','f','770,313 785,312 768,320'],
['Caribbean Islands','f','795,322 808,322 812,335 800,333'],
['Grey Microstates','f','758,327 772,327 762,335'],
['Grey Microstates','f','748,345 762,345 765,357 752,357'],
['Caribbean Islands','f','752,372 785,370 775,385 750,380']
];

const disputedBorders = [
['sudan-south-sudan','c','750,630 765,595 780,600 805,612 855,608 872,560 885,562 900,610'],
['kashmir-west','d','175,480 190,530 225,570 240,560 287,565'],
['halaib','c','912,340 880,368'],
['ilemi','c','905,705 927,715'],
['korea-dmz','d','945,437 965,428']
];

const islandMarkers = [
['Barbados','f',828,60,665,235],['Grey Microstates','f',880,96,740,250],['Grey Microstates','f',916,145,765,255],['Grey Microstates','f',933,202,770,290],['Saint Lucia','f',931,257,780,310],['Trinidad','f',907,308,810,332],['Grey Microstates','f',869,355,770,335],['Grey Microstates','f',820,388,762,350],
['Grey Microstates','b',432,895,400,835],['Grey Microstates','b',475,855,480,755],['Grey Microstates','b',574,800,552,800],
['Grey Microstates','c',1236,888],['Sao Tome','c',480,792],['Cape Verde','c',10,486],['Maldives','c',1494,713],['Bahrain','c',1130,252],
['Singapore','d',729,1276,722,1258],['Timor-Leste','d',1089,1527,1060,1495],
['Grey Microstates','e',793,360],['Grey Microstates','e',1051,338],['Grey Microstates','e',1416,362],['Grey Microstates','e',1366,520],['Grey Microstates','e',1493,515],['Grey Microstates','e',1534,677],['Solomon Islands','e',1256,703]
];
const pacificMarkers = [['Grey Microstates',753,1761],['Reunion',756,1814],['Grey Microstates',797,1873],['Grey Microstates',750,1883],['Grey Microstates',906,1892]];

const legendLabelWidths = [220,261,324,191,328,164,245,324];
const otherLabelWidths = [295,160];

const SVG_NS = 'http://www.w3.org/2000/svg';
const map = document.getElementById('map');
const legend = document.getElementById('legend');
const siteOfCountry = {};
function assign(list, site){ list.forEach(function(n){ siteOfCountry[n] = site; }); }
assign(breastCountries,'Breast');
assign(prostateCountries,'Prostate');
assign(cervixCountries,'Cervix uteri');
assign(lungCountries,'Lung');
assign(colorectumCountries,'Colorectum');
assign(liverCountries,'Liver');
assign(stomachCountries,'Stomach');
assign(oesophagusCountries,'Oesophagus');
assign(notApplicableCountries,'Not applicable');
assign(unmappedAreas,'Unmapped');
assign(waterBodies,'Water');
function slug(s){ return s.toLowerCase().replace(/[^a-z0-9]+/g,'-'); }
function pageX(c,x){ const t=crops[c]; return t[0]+x/t[2]; }
function pageY(c,y){ const t=crops[c]; return t[1]+y/t[3]; }
function pointsFrom(c,pts){
  return pts.trim().split(/\s+/).map(function(p){
    const v=p.split(',');
    return pageX(c,+v[0]).toFixed(1)+' '+pageY(c,+v[1]).toFixed(1);
  }).join('L');
}
function fillOf(name){ return siteColors[siteOfCountry[name]] || siteColors['No data']; }
function strokeFor(name){
  if(name==='Lakes') return '1.5';
  if(name==='Solomon Islands' || name==='Caribbean Islands') return '1.3';
  return '1.8';
}

outlines.forEach(function(o){
  const el = document.createElementNS(SVG_NS,'path');
  el.setAttribute('d','M'+pointsFrom(o[1],o[2])+'Z');
  el.setAttribute('fill',fillOf(o[0]));
  el.setAttribute('stroke','#000');
  el.setAttribute('stroke-width',strokeFor(o[0]));
  el.setAttribute('stroke-linejoin','round');
  
  
  map.appendChild(el);
});

disputedBorders.forEach(function(o){
  const el = document.createElementNS(SVG_NS,'path');
  el.setAttribute('d','M'+pointsFrom(o[1],o[2]));
  el.setAttribute('fill','none');
  el.setAttribute('stroke','#fff');
  el.setAttribute('stroke-width','2.4');
  el.setAttribute('stroke-dasharray','4 3');
  
  
  map.appendChild(el);
});

function addMarker(name,cx,cy,lx,ly){
  if(lx!==undefined){
    const ln = document.createElementNS(SVG_NS,'line');
    ln.setAttribute('x1',cx); ln.setAttribute('y1',cy);
    ln.setAttribute('x2',lx); ln.setAttribute('y2',ly);
    ln.setAttribute('stroke','#000'); ln.setAttribute('stroke-width','1.6');
    
    
    map.appendChild(ln);
  }
  const el = document.createElementNS(SVG_NS,'ellipse');
  el.setAttribute('cx',cx); el.setAttribute('cy',cy);
  el.setAttribute('rx',9.5); el.setAttribute('ry',11);
  el.setAttribute('fill',fillOf(name));
  el.setAttribute('stroke','#222'); el.setAttribute('stroke-width','1.8');
  
  
  map.appendChild(el);
}
islandMarkers.forEach(function(m){
  const c=m[1];
  if(m.length>4){ addMarker(m[0],pageX(c,m[2]),pageY(c,m[3]),pageX(c,m[4]),pageY(c,m[5])); }
  else { addMarker(m[0],pageX(c,m[2]),pageY(c,m[3])); }
});
pacificMarkers.forEach(function(m){ addMarker(m[0],m[1],m[2]); });

function addLegendRow(label,color,sx,ty,textW,rowName){
  const sw = document.createElementNS(SVG_NS,'rect');
  sw.setAttribute('x',sx); sw.setAttribute('y',ty);
  sw.setAttribute('width',180); sw.setAttribute('height',48);
  sw.setAttribute('fill',color);
  
  
  legend.appendChild(sw);
  const tx = document.createElementNS(SVG_NS,'text');
  tx.setAttribute('x',sx+201); tx.setAttribute('y',ty+44);
  tx.setAttribute('font-size',44);
  tx.setAttribute('textLength',textW);
  tx.setAttribute('lengthAdjust','spacingAndGlyphs');
  
  
  tx.textContent = label;
  legend.appendChild(tx);
}
siteNames.forEach(function(n,i){
  addLegendRow(n+' ('+siteCounts[i]+')',siteColors[n],20,2300+i*60,legendLabelWidths[i],slug(n));
});
otherNames.forEach(function(n,i){
  addLegendRow(n,siteColors[n],720,2300+i*60,otherLabelWidths[i],slug(n));
});
</script>
</body>
</html>
